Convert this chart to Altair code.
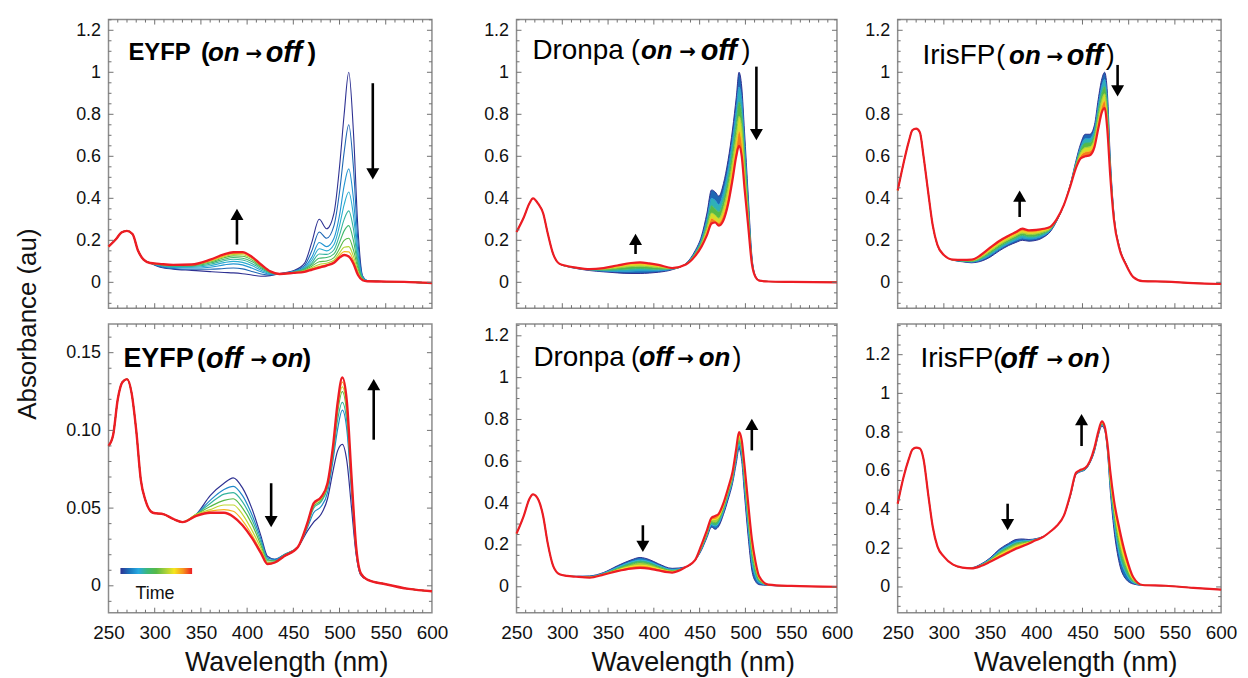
import altair as alt
import pandas as pd

FONT = "Liberation Sans"
ARROW_FONT = "DejaVu Sans"
TXT = "#111111"
TICK = "#707070"
FRAME = "#8c8c8c"

# ---------------- colour ramp for time ----------------
TIME_COLORS = ["#2e3192", "#1b75bc", "#27aae1", "#3cb878", "#57b947", "#a4cf3b", "#f5e61e", "#f7941d", "#ed1c24"]
TIME_STOPS = [0, 0.125, 0.25, 0.375, 0.5, 0.625, 0.75, 0.875, 1.0]

# ---------------- axis ticks ----------------
X_LABELS = [250, 300, 350, 400, 450, 500, 550, 600]
X_MAJOR = [300, 350, 400, 450, 500, 550]
X_MINOR = [260, 270, 280, 290, 310, 320, 330, 340, 360, 370, 380, 390, 410, 420, 430, 440,
           460, 470, 480, 490, 510, 520, 530, 540, 560, 570, 580, 590]
Y_LABELS_UNIT = [0, 0.2, 0.4, 0.6, 0.8, 1.0, 1.2]
Y_LABELS_SMALL = [0, 0.05, 0.10, 0.15]

# ---------------- Panel A : EYFP (on -> off) ----------------
WL_A = [250, 258, 264, 270, 276, 282, 288, 295, 305, 320, 340, 360, 375, 385, 395, 405, 415, 425,
        435, 450, 462, 470, 478, 486, 494, 500, 505, 510, 515, 520, 525, 530, 545, 570, 600]
UV_A = [0.17, 0.205, 0.237, 0.245, 0.23, 0.15, 0.108, 0.092]
T_A = [0, 0.1, 0.2, 0.27, 0.33, 0.4, 0.5, 0.65, 0.82, 1.0]
TAILS_A = [
    [0.073, 0.063, 0.057, 0.051, 0.047, 0.045, 0.041, 0.035, 0.029, 0.032, 0.042, 0.055, 0.09, 0.19, 0.30, 0.255, 0.33, 0.55, 0.80, 1.00, 0.72, 0.25, 0.03, 0.008, 0.004, 0.002, -0.003],
    [0.076, 0.066, 0.062, 0.062, 0.066, 0.068, 0.064, 0.052, 0.040, 0.035, 0.041, 0.053, 0.08, 0.15, 0.24, 0.21, 0.27, 0.43, 0.62, 0.75, 0.55, 0.19, 0.028, 0.008, 0.004, 0.002, -0.003],
    [0.079, 0.070, 0.068, 0.072, 0.083, 0.088, 0.083, 0.068, 0.050, 0.038, 0.040, 0.051, 0.072, 0.12, 0.19, 0.17, 0.21, 0.32, 0.46, 0.54, 0.40, 0.14, 0.025, 0.007, 0.004, 0.002, -0.003],
    [0.081, 0.073, 0.072, 0.079, 0.094, 0.100, 0.095, 0.080, 0.058, 0.041, 0.040, 0.050, 0.068, 0.105, 0.16, 0.15, 0.18, 0.27, 0.37, 0.43, 0.32, 0.115, 0.022, 0.007, 0.004, 0.002, -0.003],
    [0.083, 0.076, 0.076, 0.086, 0.103, 0.110, 0.106, 0.090, 0.065, 0.044, 0.040, 0.049, 0.065, 0.093, 0.135, 0.133, 0.155, 0.225, 0.30, 0.34, 0.255, 0.095, 0.020, 0.006, 0.004, 0.002, -0.003],
    [0.084, 0.078, 0.079, 0.092, 0.110, 0.118, 0.115, 0.099, 0.071, 0.046, 0.040, 0.048, 0.062, 0.085, 0.115, 0.118, 0.135, 0.19, 0.245, 0.27, 0.20, 0.08, 0.018, 0.006, 0.004, 0.002, -0.003],
    [0.085, 0.080, 0.081, 0.097, 0.117, 0.126, 0.124, 0.107, 0.076, 0.048, 0.040, 0.047, 0.058, 0.077, 0.098, 0.102, 0.118, 0.16, 0.20, 0.21, 0.155, 0.065, 0.015, 0.006, 0.004, 0.002, -0.003],
    [0.086, 0.081, 0.083, 0.100, 0.122, 0.132, 0.131, 0.113, 0.080, 0.050, 0.040, 0.046, 0.055, 0.070, 0.085, 0.091, 0.105, 0.14, 0.167, 0.17, 0.125, 0.052, 0.013, 0.005, 0.004, 0.002, -0.003],
    [0.087, 0.082, 0.084, 0.103, 0.126, 0.138, 0.137, 0.118, 0.083, 0.051, 0.040, 0.045, 0.052, 0.065, 0.076, 0.084, 0.097, 0.128, 0.146, 0.145, 0.105, 0.042, 0.011, 0.005, 0.004, 0.002, -0.003],
    [0.088, 0.083, 0.085, 0.108, 0.133, 0.143, 0.144, 0.122, 0.085, 0.052, 0.040, 0.045, 0.050, 0.060, 0.070, 0.080, 0.093, 0.118, 0.130, 0.123, 0.090, 0.035, 0.010, 0.005, 0.004, 0.002, -0.003],
]
ARROWS_A = {"x": [536, 389], "y1": [0.948, 0.18], "y2": [0.49, 0.35]}

# ---------------- Panel B : EYFP (off -> on) ----------------
WL_B = [250, 255, 260, 265, 270, 275, 280, 285, 290, 298, 310, 320, 330, 345, 360, 375, 385, 395, 405,
        415, 422, 430, 440, 455, 465, 472, 480, 487, 493, 498, 503, 508, 513, 518, 523, 530, 550, 575, 600]
UV_B = [0.090, 0.097, 0.120, 0.131, 0.133, 0.124, 0.100, 0.068, 0.055, 0.047, 0.046, 0.043, 0.041]
T_B = [0, 0.17, 0.33, 0.5, 0.67, 0.83, 1.0]
TAILS_B = [
    [0.046, 0.058, 0.066, 0.0695, 0.063, 0.050, 0.032, 0.019, 0.017, 0.020, 0.025, 0.035, 0.041, 0.046, 0.056, 0.074, 0.087, 0.091, 0.080, 0.050, 0.020, 0.007, 0.004, 0.001, -0.002, -0.0035],
    [0.046, 0.055, 0.062, 0.064, 0.058, 0.046, 0.030, 0.018, 0.017, 0.020, 0.025, 0.037, 0.047, 0.051, 0.060, 0.081, 0.101, 0.113, 0.100, 0.060, 0.022, 0.007, 0.004, 0.001, -0.002, -0.0035],
    [0.046, 0.053, 0.059, 0.060, 0.054, 0.043, 0.028, 0.017, 0.016, 0.020, 0.025, 0.038, 0.050, 0.054, 0.063, 0.084, 0.107, 0.118, 0.105, 0.063, 0.023, 0.008, 0.004, 0.001, -0.002, -0.0035],
    [0.046, 0.051, 0.055, 0.056, 0.050, 0.040, 0.026, 0.016, 0.016, 0.019, 0.025, 0.039, 0.051, 0.055, 0.064, 0.086, 0.112, 0.125, 0.110, 0.066, 0.024, 0.008, 0.004, 0.001, -0.002, -0.0035],
    [0.046, 0.049, 0.052, 0.052, 0.046, 0.036, 0.024, 0.015, 0.015, 0.019, 0.025, 0.039, 0.052, 0.056, 0.065, 0.088, 0.115, 0.128, 0.113, 0.068, 0.024, 0.008, 0.004, 0.001, -0.002, -0.0035],
    [0.045, 0.048, 0.049, 0.048, 0.042, 0.033, 0.022, 0.014, 0.015, 0.019, 0.025, 0.040, 0.053, 0.057, 0.066, 0.089, 0.117, 0.131, 0.116, 0.069, 0.025, 0.008, 0.004, 0.001, -0.002, -0.0035],
    [0.045, 0.047, 0.047, 0.0445, 0.039, 0.031, 0.021, 0.014, 0.015, 0.019, 0.025, 0.040, 0.053, 0.057, 0.066, 0.090, 0.118, 0.134, 0.118, 0.070, 0.025, 0.008, 0.004, 0.001, -0.002, -0.0035],
]
ARROWS_B = {"x": [537, 426], "y1": [0.094, 0.066], "y2": [0.133, 0.0377]}

# ---------------- Panel C : Dronpa (on -> off) ----------------
WL_CD = [250, 258, 264, 268, 274, 279, 284, 290, 297, 305, 315, 330, 345, 360, 375, 385, 395, 405, 420,
         435, 445, 452, 458, 463, 467, 471, 476, 481, 486, 490, 493, 496, 499, 503, 507, 511, 515, 525, 550, 600]
UV_C = [0.24, 0.31, 0.375, 0.40, 0.372, 0.33, 0.235, 0.135, 0.088]
T_C = [0, 0.2, 0.4, 0.6, 0.8, 1.0]
TAILS_C = [
    [0.075, 0.066, 0.056, 0.050, 0.045, 0.042, 0.042, 0.044, 0.048, 0.060, 0.090, 0.150, 0.220, 0.330, 0.440, 0.430, 0.410, 0.470, 0.580, 0.730, 0.880, 1.000, 0.930, 0.720, 0.420, 0.130, 0.030, 0.010, 0.004, 0.002, 0.0],
    [0.076, 0.067, 0.058, 0.054, 0.052, 0.053, 0.054, 0.054, 0.055, 0.062, 0.089, 0.143, 0.205, 0.300, 0.400, 0.390, 0.370, 0.430, 0.535, 0.680, 0.820, 0.930, 0.870, 0.670, 0.390, 0.120, 0.029, 0.010, 0.004, 0.002, 0.0],
    [0.076, 0.068, 0.060, 0.058, 0.060, 0.064, 0.066, 0.064, 0.062, 0.064, 0.088, 0.138, 0.195, 0.280, 0.365, 0.350, 0.335, 0.390, 0.490, 0.630, 0.760, 0.860, 0.800, 0.610, 0.360, 0.110, 0.028, 0.009, 0.004, 0.002, 0.0],
    [0.077, 0.069, 0.061, 0.062, 0.068, 0.075, 0.077, 0.074, 0.070, 0.066, 0.087, 0.133, 0.185, 0.260, 0.330, 0.320, 0.305, 0.355, 0.450, 0.580, 0.700, 0.790, 0.740, 0.560, 0.330, 0.100, 0.027, 0.009, 0.004, 0.002, 0.0],
    [0.077, 0.070, 0.062, 0.065, 0.074, 0.085, 0.087, 0.083, 0.077, 0.067, 0.086, 0.129, 0.177, 0.242, 0.305, 0.295, 0.285, 0.325, 0.410, 0.535, 0.645, 0.720, 0.670, 0.500, 0.300, 0.095, 0.026, 0.009, 0.004, 0.002, 0.0],
    [0.078, 0.070, 0.063, 0.068, 0.080, 0.092, 0.095, 0.090, 0.083, 0.068, 0.085, 0.125, 0.170, 0.225, 0.280, 0.285, 0.270, 0.295, 0.370, 0.490, 0.600, 0.650, 0.600, 0.450, 0.270, 0.090, 0.025, 0.008, 0.004, 0.002, 0.0],
]
ARROWS_C = {"x": [512, 380], "y1": [1.027, 0.135], "y2": [0.677, 0.231]}

# ---------------- Panel D : Dronpa (off -> on) ----------------
UV_D = [0.254, 0.34, 0.42, 0.442, 0.415, 0.34, 0.21, 0.10, 0.06]
T_D = [0, 0.25, 0.5, 0.75, 1.0]
TAILS_D = [
    [0.052, 0.050, 0.052, 0.068, 0.100, 0.128, 0.140, 0.130, 0.110, 0.088, 0.095, 0.125, 0.175, 0.235, 0.285, 0.275, 0.290, 0.345, 0.415, 0.495, 0.590, 0.660, 0.600, 0.440, 0.240, 0.080, 0.025, 0.010, 0.006, 0.003, 0.0],
    [0.052, 0.050, 0.050, 0.065, 0.093, 0.118, 0.128, 0.120, 0.102, 0.083, 0.095, 0.125, 0.180, 0.243, 0.297, 0.290, 0.305, 0.358, 0.430, 0.508, 0.610, 0.680, 0.625, 0.475, 0.280, 0.120, 0.050, 0.020, 0.007, 0.003, 0.0],
    [0.052, 0.049, 0.048, 0.062, 0.086, 0.107, 0.116, 0.109, 0.094, 0.078, 0.095, 0.125, 0.185, 0.250, 0.310, 0.305, 0.320, 0.372, 0.445, 0.520, 0.630, 0.700, 0.650, 0.510, 0.320, 0.160, 0.075, 0.030, 0.008, 0.003, 0.0],
    [0.052, 0.049, 0.046, 0.060, 0.080, 0.097, 0.103, 0.098, 0.086, 0.073, 0.095, 0.126, 0.192, 0.260, 0.320, 0.322, 0.335, 0.386, 0.458, 0.535, 0.645, 0.720, 0.675, 0.545, 0.360, 0.195, 0.100, 0.040, 0.009, 0.003, 0.0],
    [0.052, 0.048, 0.044, 0.058, 0.075, 0.087, 0.090, 0.087, 0.078, 0.068, 0.095, 0.127, 0.200, 0.270, 0.330, 0.338, 0.350, 0.400, 0.470, 0.550, 0.660, 0.740, 0.700, 0.580, 0.400, 0.230, 0.120, 0.050, 0.010, 0.004, 0.0],
]
ARROWS_D = {"x": [507, 388], "y1": [0.652, 0.294], "y2": [0.803, 0.167]}

# ---------------- Panel E : IrisFP (on -> off) ----------------
WL_EF = [250, 256, 262, 266, 270, 274, 278, 283, 288, 293, 300, 310, 320, 330, 340, 350, 360, 370, 378,
         385, 392, 400, 408, 415, 422, 430, 437, 443, 448, 453, 458, 463, 467, 471, 474, 477, 480, 484,
         490, 497, 505, 515, 540, 570, 600]
UV_E = [0.437, 0.56, 0.67, 0.725, 0.732, 0.715, 0.60, 0.43, 0.27, 0.178, 0.13]
T_E = [0, 0.2, 0.4, 0.6, 0.8, 1.0]
TAILS_E = [
    [0.105, 0.098, 0.093, 0.100, 0.120, 0.150, 0.175, 0.190, 0.200, 0.196, 0.200, 0.215, 0.240, 0.290, 0.370, 0.470, 0.580, 0.660, 0.705, 0.705, 0.750, 0.870, 0.970, 1.000, 0.900, 0.600, 0.330, 0.170, 0.090, 0.025, 0.006, 0.003, -0.004, -0.008],
    [0.106, 0.100, 0.096, 0.106, 0.129, 0.159, 0.184, 0.200, 0.211, 0.206, 0.210, 0.223, 0.245, 0.292, 0.370, 0.468, 0.573, 0.646, 0.684, 0.685, 0.730, 0.842, 0.937, 0.966, 0.865, 0.582, 0.324, 0.168, 0.089, 0.025, 0.006, 0.003, -0.004, -0.008],
    [0.106, 0.101, 0.099, 0.112, 0.138, 0.168, 0.194, 0.211, 0.224, 0.217, 0.220, 0.232, 0.250, 0.294, 0.370, 0.466, 0.566, 0.632, 0.663, 0.665, 0.710, 0.814, 0.904, 0.932, 0.830, 0.564, 0.318, 0.166, 0.088, 0.025, 0.006, 0.003, -0.004, -0.008],
    [0.107, 0.103, 0.102, 0.118, 0.147, 0.178, 0.203, 0.221, 0.234, 0.227, 0.230, 0.240, 0.254, 0.296, 0.370, 0.464, 0.559, 0.618, 0.642, 0.645, 0.688, 0.786, 0.871, 0.898, 0.790, 0.546, 0.312, 0.164, 0.087, 0.025, 0.006, 0.003, -0.004, -0.008],
    [0.107, 0.105, 0.105, 0.124, 0.156, 0.188, 0.213, 0.230, 0.245, 0.238, 0.240, 0.248, 0.259, 0.298, 0.370, 0.462, 0.552, 0.604, 0.621, 0.625, 0.666, 0.758, 0.840, 0.864, 0.755, 0.528, 0.306, 0.162, 0.086, 0.025, 0.006, 0.003, -0.004, -0.008],
    [0.108, 0.107, 0.108, 0.130, 0.165, 0.197, 0.222, 0.240, 0.256, 0.248, 0.250, 0.255, 0.264, 0.300, 0.370, 0.460, 0.545, 0.590, 0.600, 0.605, 0.645, 0.730, 0.810, 0.830, 0.720, 0.510, 0.300, 0.160, 0.085, 0.025, 0.006, 0.003, -0.004, -0.008],
]
ARROWS_E = {"x": [488, 382], "y1": [1.035, 0.311], "y2": [0.885, 0.437]}

# ---------------- Panel F : IrisFP (off -> on) ----------------
UV_F = [0.43, 0.56, 0.66, 0.71, 0.72, 0.715, 0.66, 0.48, 0.31, 0.21, 0.157]
T_F = [0, 0.25, 0.5, 0.75, 1.0]
TAILS_F = [
    [0.115, 0.100, 0.100, 0.118, 0.150, 0.195, 0.225, 0.245, 0.248, 0.245, 0.250, 0.262, 0.285, 0.315, 0.370, 0.470, 0.580, 0.595, 0.605, 0.640, 0.700, 0.780, 0.830, 0.810, 0.700, 0.500, 0.300, 0.120, 0.040, 0.015, 0.008, 0.006, -0.005, -0.014],
    [0.115, 0.100, 0.099, 0.115, 0.145, 0.185, 0.213, 0.232, 0.238, 0.240, 0.248, 0.261, 0.285, 0.315, 0.370, 0.472, 0.582, 0.597, 0.607, 0.643, 0.705, 0.785, 0.837, 0.815, 0.710, 0.520, 0.340, 0.165, 0.070, 0.022, 0.008, 0.006, -0.005, -0.014],
    [0.115, 0.100, 0.098, 0.113, 0.140, 0.175, 0.202, 0.221, 0.229, 0.235, 0.246, 0.261, 0.285, 0.315, 0.370, 0.475, 0.585, 0.600, 0.610, 0.645, 0.710, 0.790, 0.843, 0.820, 0.720, 0.540, 0.380, 0.210, 0.100, 0.030, 0.009, 0.006, -0.005, -0.014],
    [0.115, 0.100, 0.097, 0.110, 0.135, 0.165, 0.190, 0.209, 0.220, 0.230, 0.244, 0.260, 0.285, 0.315, 0.370, 0.478, 0.588, 0.603, 0.613, 0.648, 0.715, 0.795, 0.849, 0.825, 0.730, 0.560, 0.415, 0.250, 0.125, 0.038, 0.010, 0.006, -0.005, -0.014],
    [0.115, 0.100, 0.096, 0.108, 0.130, 0.155, 0.178, 0.197, 0.210, 0.225, 0.242, 0.260, 0.285, 0.315, 0.370, 0.480, 0.590, 0.605, 0.615, 0.650, 0.720, 0.800, 0.855, 0.830, 0.740, 0.600, 0.450, 0.300, 0.160, 0.050, 0.010, 0.006, -0.005, -0.014],
]
ARROWS_F = {"x": [449, 369], "y1": [0.728, 0.43], "y2": [0.893, 0.293]}

# ---------------- panel titles (text, x offset, align, size, weight, style) ----------------
ARW = "\u2192"
TITLES = {
    "A": (34, [("EYFP", 20, "left", 24, "bold", "normal"), ("(", 93, "left", 26, "bold", "normal"),
               ("on", 100, "left", 26, "bold", "italic"), (ARW, 146, "center", 20, "bold", "normal"),
               ("off", 158, "left", 29, "bold", "italic"), (")", 200, "left", 26, "bold", "normal")]),
    "B": (35, [("EYFP", 15, "left", 27, "bold", "normal"), ("(", 89, "left", 26, "bold", "normal"),
               ("off", 98, "left", 29, "bold", "italic"), (ARW, 151, "center", 20, "bold", "normal"),
               ("on", 164, "left", 26, "bold", "italic"), (")", 195, "left", 26, "bold", "normal")]),
    "C": (32, [("Dronpa", 16, "left", 28, "normal", "normal"), ("(", 115, "left", 27, "normal", "normal"),
               ("on", 125, "left", 26, "bold", "italic"), (ARW, 172, "center", 20, "bold", "normal"),
               ("off", 185, "left", 29, "bold", "italic"), (")", 226, "left", 27, "normal", "normal")]),
    "D": (34, [("Dronpa", 17, "left", 28, "normal", "normal"), ("(", 115, "left", 27, "normal", "normal"),
               ("off", 123, "left", 27, "bold", "italic"), (ARW, 170, "center", 20, "bold", "normal"),
               ("on", 183, "left", 26, "bold", "italic"), (")", 217, "left", 27, "normal", "normal")]),
    "E": (37, [("IrisFP", 25, "left", 28, "normal", "normal"), ("(", 99, "left", 27, "normal", "normal"),
               ("on", 112, "left", 26, "bold", "italic"), (ARW, 158, "center", 20, "bold", "normal"),
               ("off", 170, "left", 29, "bold", "italic"), (")", 209, "left", 27, "normal", "normal")]),
    "F": (35, [("IrisFP", 23, "left", 28, "normal", "normal"), ("(", 96, "left", 27, "normal", "normal"),
               ("off", 103, "left", 29, "bold", "italic"), (ARW, 158, "center", 20, "bold", "normal"),
               ("on", 171, "left", 26, "bold", "italic"), (")", 205, "left", 27, "normal", "normal")]),
}

H = 290
CSCALE = alt.Scale(domain=TIME_STOPS, range=TIME_COLORS, interpolate="rgb")
ONE = alt.Data(values=[{"k": 0}])


def lines_df(wl, uv, tails, ts, base_w, last_w):
    rows = []
    for k, (tail, t) in enumerate(zip(tails, ts)):
        vals = uv + tail
        assert len(vals) == len(wl), (len(vals), len(wl))
        w = last_w if k == len(tails) - 1 else base_w
        for x, v in zip(wl, vals):
            rows.append({"wl": x, "a": v, "t": t, "s": k, "w": w})
    return pd.DataFrame(rows)


def bands_df(wl, uv, tails, ts):
    rows = []
    for k in range(len(tails) - 1):
        lo = uv + tails[k]
        hi = uv + tails[k + 1]
        t = (ts[k] + ts[k + 1]) / 2
        for x, a, b in zip(wl, lo, hi):
            rows.append({"wl": x, "lo": a, "hi": b, "t": t, "s": k})
    return pd.DataFrame(rows)


def panel(key, W, wl, uv, tails, ts, arrows, ydom, ylabels, ymajor_step, yminor_step, bottom,
          bands, base_w, last_w, small=False):
    sx = alt.Scale(domain=[250, 600], nice=False, zero=False)
    sy = alt.Scale(domain=ydom, nice=False, zero=False)
    if bottom:
        xax = alt.Axis(values=X_LABELS, ticks=False, domain=False, grid=False, labelFont=FONT,
                       labelFontSize=19, labelColor=TXT, labelPadding=11, labelFlush=False,
                       title="Wavelength (nm)", titleFont=FONT, titleFontSize=27, titleFontWeight="normal",
                       titleColor=TXT, titleX=W / 2 + 16, titleY=50, titleBaseline="middle", titleAlign="center")
    else:
        xax = None
    lab_expr = ("datum.value == 0 ? '0' : format(datum.value, '.2f')" if small
                else "format(datum.value, '~g')")
    yax = alt.Axis(values=ylabels, ticks=False, domain=False, grid=False, labelFont=FONT, labelFontSize=18,
                   labelColor=TXT, labelPadding=8, labelExpr=lab_expr, title=None)

    def X(f):
        return alt.X(f, type="quantitative", scale=sx, axis=xax)

    def Y(f):
        return alt.Y(f, type="quantitative", scale=sy, axis=yax)

    layers = []
    if bands:
        bd = bands_df(wl, uv, tails, ts)
        layers.append(alt.Chart(bd).mark_area(interpolate="monotone", opacity=1).encode(
            x=X("wl"), y=Y("lo"), y2=alt.Y2("hi"),
            color=alt.Color("t:Q", scale=CSCALE, legend=None), detail="s:N"))
    ld = lines_df(wl, uv, tails, ts, base_w, last_w)
    layers.append(alt.Chart(ld).mark_line(interpolate="monotone").encode(
        x=X("wl"), y=Y("a"), color=alt.Color("t:Q", scale=CSCALE, legend=None), detail="s:N",
        strokeWidth=alt.StrokeWidth("w:Q", scale=None)))

    # arrows
    down = pd.DataFrame([dict(x=x, y1=a, y2=b) for x, a, b in zip(arrows["x"], arrows["y1"], arrows["y2"]) if b < a])
    up = pd.DataFrame([dict(x=x, y1=a, y2=b) for x, a, b in zip(arrows["x"], arrows["y1"], arrows["y2"]) if b > a])
    for d, shape, off in ((down, "triangle-down", -1), (up, "triangle-up", 1)):
        if len(d) == 0:
            continue
        layers.append(alt.Chart(d).mark_rule(color="black", strokeWidth=2.6, y2Offset=7 * off).encode(
            x=X("x"), y=Y("y1"), y2=alt.Y2("y2")))
        layers.append(alt.Chart(d).mark_point(shape=shape, filled=True, size=170, color="black", opacity=1,
                                              yOffset=5.6 * off).encode(x=X("x"), y=Y("y2")))

    # frame ticks (inward)
    ymaj = [v for v in ylabels if ydom[0] < v < ydom[1]]
    n0 = int(ydom[0] / yminor_step) - 1
    ymin = []
    for i in range(n0, n0 + 400):
        v = round(i * yminor_step, 4)
        if ydom[0] < v < ydom[1] and abs(v / ymajor_step - round(v / ymajor_step)) > 1e-6:
            ymin.append(v)
    for vals, L in ((X_MAJOR, 5), (X_MINOR, 3)):
        d = pd.DataFrame({"v": vals})
        base = alt.Chart(d).mark_rule(color=TICK, strokeWidth=1)
        layers.append(base.encode(x=X("v"), y=alt.value(H), y2=alt.value(H - L)))
        layers.append(base.encode(x=X("v"), y=alt.value(0), y2=alt.value(L)))
    for vals, L in ((ymaj, 5), (ymin, 3)):
        d = pd.DataFrame({"v": vals})
        base = alt.Chart(d).mark_rule(color=TICK, strokeWidth=1)
        layers.append(base.encode(y=Y("v"), x=alt.value(0), x2=alt.value(L)))
        layers.append(base.encode(y=Y("v"), x=alt.value(W), x2=alt.value(W - L)))

    # title pieces
    ty, pieces = TITLES[key]
    for txt, dx, align, size, weight, style in pieces:
        fnt = ARROW_FONT if txt == ARW else FONT
        yy = ty + 1 if txt == ARW else ty
        layers.append(alt.Chart(ONE).mark_text(text=txt, align=align, baseline="middle", font=fnt,
                                               fontSize=size, fontWeight=weight, fontStyle=style,
                                               color="black").encode(x=alt.value(dx), y=alt.value(yy)))
    if key == "B":
        grad = alt.LinearGradient(gradient="linear",
                                  stops=[alt.GradientStop(offset=o, color=c) for o, c in zip(TIME_STOPS, TIME_COLORS)],
                                  x1=0, x2=1, y1=0, y2=0)
        layers.append(alt.Chart(ONE).mark_rect(color=grad).encode(
            x=alt.value(12), x2=alt.value(84), y=alt.value(245), y2=alt.value(251)))
        layers.append(alt.Chart(ONE).mark_text(text="Time", align="left", baseline="middle", font=FONT,
                                               fontSize=18, color=TXT).encode(x=alt.value(27), y=alt.value(271)))
    return alt.layer(*layers).properties(width=W, height=H)


TOP = [-0.123, 1.251]
pA = panel("A", 325, WL_A, UV_A, TAILS_A, T_A, ARROWS_A, TOP, Y_LABELS_UNIT, 0.2, 0.05, False, False, 1.1, 2.4)
pB = panel("B", 325, WL_B, UV_B, TAILS_B, T_B, ARROWS_B, [-0.0173, 0.1684], Y_LABELS_SMALL, 0.05, 0.01, True,
           False, 1.2, 2.4, small=True)
pC = panel("C", 322, WL_CD, UV_C, TAILS_C, T_C, ARROWS_C, TOP, Y_LABELS_UNIT, 0.2, 0.05, False, True, 1.0, 2.2)
pD = panel("D", 322, WL_CD, UV_D, TAILS_D, T_D, ARROWS_D, [-0.124, 1.256], Y_LABELS_UNIT, 0.2, 0.05, True,
           True, 1.0, 2.2)
pE = panel("E", 325, WL_EF, UV_E, TAILS_E, T_E, ARROWS_E, TOP, Y_LABELS_UNIT, 0.2, 0.05, False, True, 1.0, 2.2)
pF = panel("F", 325, WL_EF, UV_F, TAILS_F, T_F, ARROWS_F, [-0.133, 1.358], Y_LABELS_UNIT, 0.2, 0.05, True,
           True, 1.0, 2.2)

ylab = alt.Chart(ONE).mark_text(text="Absorbance (au)", angle=270, font=FONT, fontSize=26, color=TXT,
                                align="center", baseline="middle").encode(
    x=alt.value(13), y=alt.value(306)).properties(width=26, height=290, view=alt.ViewBackground(strokeOpacity=0))

col1 = alt.vconcat(pA, pB, spacing=12)
col2 = alt.vconcat(pC, pD, spacing=12)
col3 = alt.vconcat(pE, pF, spacing=12)

chart = alt.hconcat(
    alt.hconcat(ylab, col1, spacing=24),
    alt.hconcat(col2, col3, spacing=10),
    spacing=34,
).properties(
    padding={"left": 7, "top": 8, "right": 2, "bottom": 0}
).configure(font=FONT).configure_view(stroke=FRAME, strokeWidth=1.5)

chart.save("out.html", embed_options={"renderer": "svg", "actions": False})
